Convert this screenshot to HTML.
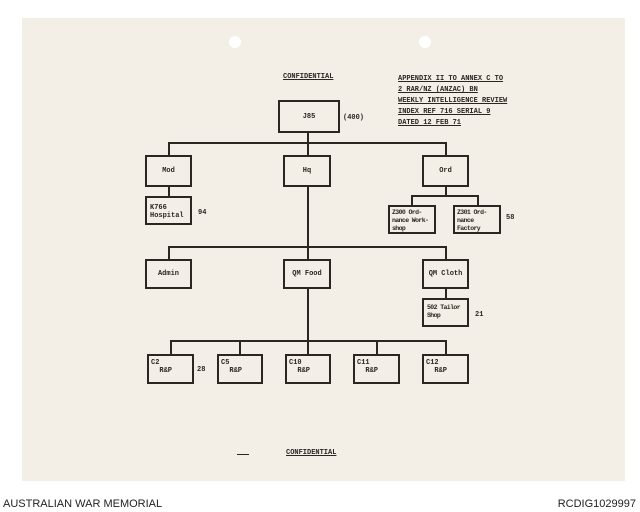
<!DOCTYPE html>
<html><head><meta charset="utf-8"><style>
body{margin:0;width:640px;height:512px;background:#fff;position:relative;overflow:hidden;font-family:"Liberation Mono",monospace;}
.paper{position:absolute;left:22px;top:18px;width:603px;height:463px;background:#f3efe6;}
.b{position:absolute;border:2px solid #2a2622;box-sizing:border-box;font-size:7px;font-weight:bold;color:#2a2622;line-height:8px;white-space:nowrap;overflow:hidden;}
.s{letter-spacing:-0.6px;font-size:6.5px;}
.c{display:flex;align-items:center;justify-content:center;}
.h{position:absolute;background:#2a2622;height:2px;}
.v{position:absolute;background:#2a2622;width:2px;}
.t{position:absolute;font-size:7px;font-weight:bold;color:#2a2622;}
.hole{position:absolute;width:12px;height:12px;border-radius:50%;background:#fff;}
</style></head><body>
<div class="paper"></div>
<div class="hole" style="left:229px;top:36px"></div>
<div class="hole" style="left:419px;top:36px"></div>
<div class="t" style="left:283px;top:73px;text-decoration:underline">CONFIDENTIAL</div>
<div class="t" style="left:398px;top:74px;line-height:11px;text-decoration:underline;font-size:7px">APPENDIX II TO ANNEX C TO<br>2 RAR/NZ (ANZAC) BN<br>WEEKLY INTELLIGENCE REVIEW<br>INDEX REF 716 SERIAL 9<br>DATED 12 FEB 71</div>
<div class="b c" style="left:278px;top:100px;width:62px;height:33px">J85</div>
<div class="t" style="left:343px;top:114px">(400)</div>
<div class="v" style="left:307px;top:132px;height:24px"></div>
<div class="h" style="left:168px;top:142px;width:279px"></div>
<div class="v" style="left:168px;top:142px;height:14px"></div>
<div class="v" style="left:445px;top:142px;height:14px"></div>
<div class="b c" style="left:145px;top:155px;width:47px;height:32px">Mod</div>
<div class="b c" style="left:283px;top:155px;width:48px;height:32px">Hq</div>
<div class="b c" style="left:422px;top:155px;width:47px;height:32px">Ord</div>
<div class="v" style="left:168px;top:186px;height:10px"></div>
<div class="b" style="left:145px;top:196px;width:47px;height:29px;padding:6px 0 0 3px">K766<br>Hospital</div>
<div class="t" style="left:198px;top:209px">94</div>
<div class="v" style="left:445px;top:186px;height:10px"></div>
<div class="h" style="left:411px;top:195px;width:68px"></div>
<div class="v" style="left:411px;top:195px;height:10px"></div>
<div class="v" style="left:477px;top:195px;height:10px"></div>
<div class="b s" style="left:388px;top:205px;width:48px;height:29px;padding:2px 0 0 2px">Z300 Ord-<br>nance Work-<br>shop</div>
<div class="b s" style="left:453px;top:205px;width:48px;height:29px;padding:2px 0 0 2px">Z301 Ord-<br>nance<br>Factory</div>
<div class="t" style="left:506px;top:214px">58</div>
<div class="v" style="left:307px;top:186px;height:74px"></div>
<div class="h" style="left:168px;top:246px;width:279px"></div>
<div class="v" style="left:168px;top:246px;height:14px"></div>
<div class="v" style="left:445px;top:246px;height:14px"></div>
<div class="b c" style="left:145px;top:259px;width:47px;height:30px">Admin</div>
<div class="b c" style="left:283px;top:259px;width:48px;height:30px">QM Food</div>
<div class="b c" style="left:422px;top:259px;width:47px;height:30px">QM Cloth</div>
<div class="v" style="left:445px;top:288px;height:10px"></div>
<div class="b s" style="left:422px;top:298px;width:47px;height:29px;padding:4px 0 0 3px">502 Tailor<br>Shop</div>
<div class="t" style="left:475px;top:311px">21</div>
<div class="v" style="left:307px;top:288px;height:66px"></div>
<div class="h" style="left:170px;top:340px;width:277px"></div>
<div class="v" style="left:170px;top:340px;height:14px"></div>
<div class="v" style="left:239px;top:340px;height:14px"></div>
<div class="v" style="left:376px;top:340px;height:14px"></div>
<div class="v" style="left:445px;top:340px;height:14px"></div>
<div class="b" style="left:147px;top:354px;width:47px;height:30px;padding:3px 0 0 2px">C2<br>&nbsp;&nbsp;R&amp;P</div>
<div class="t" style="left:197px;top:366px">28</div>
<div class="b" style="left:217px;top:354px;width:46px;height:30px;padding:3px 0 0 2px">C5<br>&nbsp;&nbsp;R&amp;P</div>
<div class="b" style="left:285px;top:354px;width:46px;height:30px;padding:3px 0 0 2px">C10<br>&nbsp;&nbsp;R&amp;P</div>
<div class="b" style="left:353px;top:354px;width:47px;height:30px;padding:3px 0 0 2px">C11<br>&nbsp;&nbsp;R&amp;P</div>
<div class="b" style="left:422px;top:354px;width:47px;height:30px;padding:3px 0 0 2px">C12<br>&nbsp;&nbsp;R&amp;P</div>
<div class="h" style="left:237px;top:454px;width:12px;height:1px"></div>
<div class="t" style="left:286px;top:449px;text-decoration:underline">CONFIDENTIAL</div>
<div style="position:absolute;left:3px;top:498px;font:11px 'Liberation Sans',sans-serif;color:#222">AUSTRALIAN WAR MEMORIAL</div>
<div style="position:absolute;right:4px;top:498px;font:11px 'Liberation Sans',sans-serif;color:#222">RCDIG1029997</div>
</body></html>
